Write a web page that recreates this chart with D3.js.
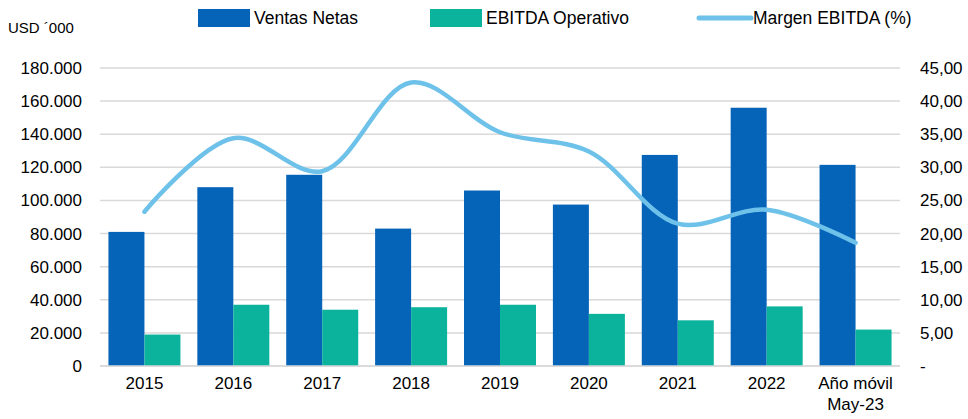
<!DOCTYPE html>
<html>
<head>
<meta charset="utf-8">
<script src="https://cdn.jsdelivr.net/npm/d3@7"></script>
<style>
  body { margin: 0; background: #fff; }
  svg { font-family: "Liberation Sans", Arial, sans-serif; }
  .axis text { font-size: 17px; fill: #000; }
  .axis path, .axis line { display: none; }
</style>
</head>
<body>
<svg width="968" height="419"></svg>
<script>
// datos
const categories = ["2015", "2016", "2017", "2018", "2019", "2020", "2021", "2022", "Año móvil|May-23"];
const ventas = [81000, 108000, 115500, 83000, 106000, 97500, 127500, 156000, 121500];
const ebitda = [19000, 37000, 34000, 35500, 37000, 31500, 27600, 36000, 22000];
const margen = [23.3, 34.4, 29.4, 42.8, 35.3, 32.4, 21.5, 23.6, 18.6];
const leftTicks = [0, 20000, 40000, 60000, 80000, 100000, 120000, 140000, 160000, 180000];
const rightTicks = [0, 5, 10, 15, 20, 25, 30, 35, 40, 45];

const colVentas = "#0563b8", colEbitda = "#0bb39c", colMargen = "#6ec2ea";

let svg = d3.select("svg"),
    margin = { top: 68, right: 68, bottom: 53, left: 100 },
    width = +svg.attr("width") - margin.left - margin.right,
    height = +svg.attr("height") - margin.top - margin.bottom,
    g = svg.append("g").attr("transform", `translate(${margin.left},${margin.top})`);

let x = d3.scaleBand().domain(categories).range([0, width]).paddingInner(0.19).paddingOuter(0.095);
let xs = d3.scaleBand().domain(["v", "e"]).range([0, x.bandwidth()]);
let y = d3.scaleLinear().domain([0, 180000]).range([height, 0]);
let y2 = d3.scaleLinear().domain([0, 45]).range([height, 0]);

// lineas de grilla
g.append("g")
    .selectAll("line")
    .data(leftTicks)
    .join("line")
    .attr("x1", 0)
    .attr("x2", width)
    .attr("y1", d => y(d))
    .attr("y2", d => y(d))
    .attr("stroke", "#d9d9d9")
    .attr("stroke-width", 1.5);

// eje izquierdo
g.append("g")
    .attr("class", "axis")
    .call(d3.axisLeft(y).tickValues(leftTicks).tickSize(0).tickPadding(18)
        .tickFormat(d => d === 0 ? "0" : d3.format(",")(d).replace(/,/g, ".")));

// eje derecho
g.append("g")
    .attr("class", "axis")
    .attr("transform", `translate(${width},0)`)
    .call(d3.axisRight(y2).tickValues(rightTicks).tickSize(0).tickPadding(20)
        .tickFormat(d => d === 0 ? "-" : d3.format(".2f")(d).replace(".", ",")));

// eje x
let xAxis = g.append("g")
    .attr("class", "axis")
    .attr("transform", `translate(0,${height})`)
    .call(d3.axisBottom(x).tickSize(0).tickPadding(11).tickFormat(""));

xAxis.selectAll(".tick text")
    .each(function(d) {
        let parts = d.split("|");
        let t = d3.select(this);
        parts.forEach((p, i) => {
            t.append("tspan").attr("x", 0).attr("dy", i === 0 ? "0.71em" : "1.22em").text(p);
        });
    });

// barras
let groups = g.append("g")
    .selectAll("g")
    .data(categories)
    .join("g")
    .attr("transform", d => `translate(${x(d)},0)`);

groups.append("rect")
    .attr("x", xs("v"))
    .attr("width", xs.bandwidth())
    .attr("y", (d, i) => y(ventas[i]))
    .attr("height", (d, i) => height - y(ventas[i]))
    .attr("fill", colVentas);

groups.append("rect")
    .attr("x", xs("e"))
    .attr("width", xs.bandwidth())
    .attr("y", (d, i) => y(ebitda[i]))
    .attr("height", (d, i) => height - y(ebitda[i]))
    .attr("fill", colEbitda);

// linea base
g.append("line")
    .attr("x1", 0).attr("x2", width)
    .attr("y1", height).attr("y2", height)
    .attr("stroke", "#d9d9d9").attr("stroke-width", 1.5);

// margen EBITDA
let line = d3.line()
    .x((d, i) => x(categories[i]) + x.bandwidth() / 2)
    .y(d => y2(d))
    .curve(d3.curveCatmullRom.alpha(0.5));

g.append("path")
    .datum(margen)
    .attr("d", line)
    .attr("fill", "none")
    .attr("stroke", colMargen)
    .attr("stroke-width", 4.5)
    .attr("stroke-linecap", "round");

// leyenda
svg.append("text")
    .attr("x", 8).attr("y", 33)
    .attr("font-size", 15)
    .text("USD ´000");

let legend = [
    { name: "Ventas Netas", color: colVentas, x: 198, type: "rect" },
    { name: "EBITDA Operativo", color: colEbitda, x: 430, type: "rect" },
    { name: "Margen EBITDA (%)", color: colMargen, x: 697, type: "line" }
];

let lg = svg.append("g")
    .selectAll("g")
    .data(legend)
    .join("g")
    .attr("transform", d => `translate(${d.x},18)`);

lg.filter(d => d.type === "rect")
    .append("rect")
    .attr("x", 0).attr("y", -9)
    .attr("width", 52).attr("height", 18)
    .attr("fill", d => d.color);

lg.filter(d => d.type === "line")
    .append("line")
    .attr("x1", 2).attr("x2", 54)
    .attr("y1", 0).attr("y2", 0)
    .attr("stroke", d => d.color)
    .attr("stroke-width", 5)
    .attr("stroke-linecap", "round");

lg.append("text")
    .attr("x", 56)
    .attr("dy", "0.35em")
    .attr("font-size", 17.5)
    .text(d => d.name);
</script>
</body>
</html>
